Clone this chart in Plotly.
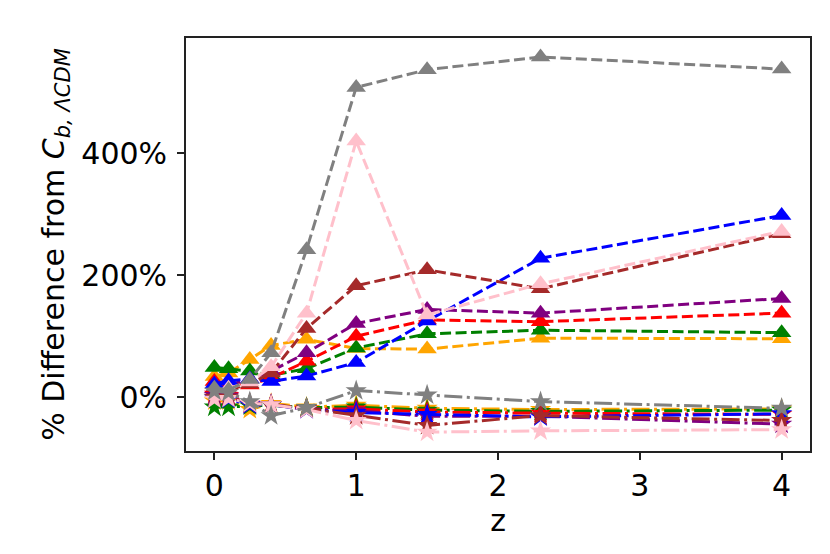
import plotly.graph_objects as go

z = [0, 0.1, 0.25, 0.4, 0.65, 1, 1.5, 2.3, 4]

colors = ["orange", "green", "red", "purple", "blue", "brown", "pink", "gray"]
color_hex = {"gray": "#808080", "pink": "#FFC0CB", "blue": "#0000FF", "brown": "#A52A2A",
             "purple": "#800080", "red": "#FF0000", "green": "#008000", "orange": "#FFA500"}

# dashed lines with triangle markers (% difference)
tri_orange = [34, 40, 62, 85, 95, 80, 79, 97, 96]
tri_green = [49, 47, 43, 36, 47, 81, 104, 110, 106]
tri_red = [26, 23, 20, 32, 59, 100, 127, 124, 138]
tri_purple = [15, 20, 30, 43, 73, 121, 144, 138, 162]
tri_blue = [22, 27, 30, 26, 35, 57, 125, 228, 298]
tri_brown = [8, 12, 22, 40, 113, 183, 209, 178, 268]
tri_pink = [10, 15, 25, 50, 138, 420, 135, 186, 272]
tri_gray = [15, 12, 29, 73, 242, 508, 537, 558, 538]

# dash-dot lines with star markers (% difference)
star_orange = [-6, -6, -20, -10, -16, -13, -18, -20, -19]
star_green = [-16, -16, -14, -13, -17, -16, -21, -23, -21]
star_red = [5, 3, -10, -12, -19, -19, -24, -26, -28]
star_purple = [3, 2, -12, -12, -20, -22, -31, -31, -44]
star_blue = [-1, -3, -12, -12, -20, -25, -28, -32, -27]
star_brown = [0, 0, -10, -12, -18, -30, -46, -30, -38]
star_pink = [-3, -2, -10, -12, -20, -38, -57, -55, -53]
star_gray = [10, 8, -7, -30, -17, 11, 4, -7, -18]

tri = [tri_orange, tri_green, tri_red, tri_purple, tri_blue, tri_brown, tri_pink, tri_gray]
star = [star_orange, star_green, star_red, star_purple, star_blue, star_brown, star_pink, star_gray]

yticks = [0, 200, 400]
ytick_labels = ["0%", "200%", "400%"]
xticks = [0, 1, 2, 3, 4]

fig = go.Figure()
for c, ys in zip(colors, tri):
    fig.add_trace(go.Scatter(x=z, y=ys, mode="lines+markers",
                             line=dict(color=color_hex[c], width=3, dash="11px,4.5px"),
                             marker=dict(symbol="triangle-up", size=17, color=color_hex[c],
                                         line=dict(width=0)),
                             showlegend=False))
for c, ys in zip(colors, star):
    fig.add_trace(go.Scatter(x=z, y=ys, mode="lines+markers",
                             line=dict(color=color_hex[c], width=3,
                                       dash="18px,4.5px,3px,4.5px"),
                             marker=dict(symbol="star", size=16, color=color_hex[c],
                                         line=dict(width=0)),
                             showlegend=False))

axis_common = dict(showline=True, linecolor="#222222", linewidth=1.8, mirror=True,
                   ticks="outside", ticklen=7, tickwidth=1.8, tickcolor="#222222",
                   showgrid=False, zeroline=False,
                   tickfont=dict(family="DejaVu Sans", size=30, color="black"))

fig.update_layout(
    width=830, height=554,
    margin=dict(l=178, r=28, t=30, b=111),
    paper_bgcolor="white", plot_bgcolor="white",
    xaxis=dict(range=[-0.2, 4.2], tickvals=xticks,
               title=dict(text="z", font=dict(family="DejaVu Sans", size=30, color="black"),
                          standoff=4),
               **axis_common),
    yaxis=dict(range=[-88, 589], tickvals=yticks, ticktext=ytick_labels,
               ticklabelstandoff=4,
               title=dict(text="% Difference from <i>C</i><sub><i>b, ΛCDM</i></sub>",
                          font=dict(family="DejaVu Sans", size=30, color="black"),
                          standoff=8),
               **axis_common),
)

fig.write_html("out.html")
